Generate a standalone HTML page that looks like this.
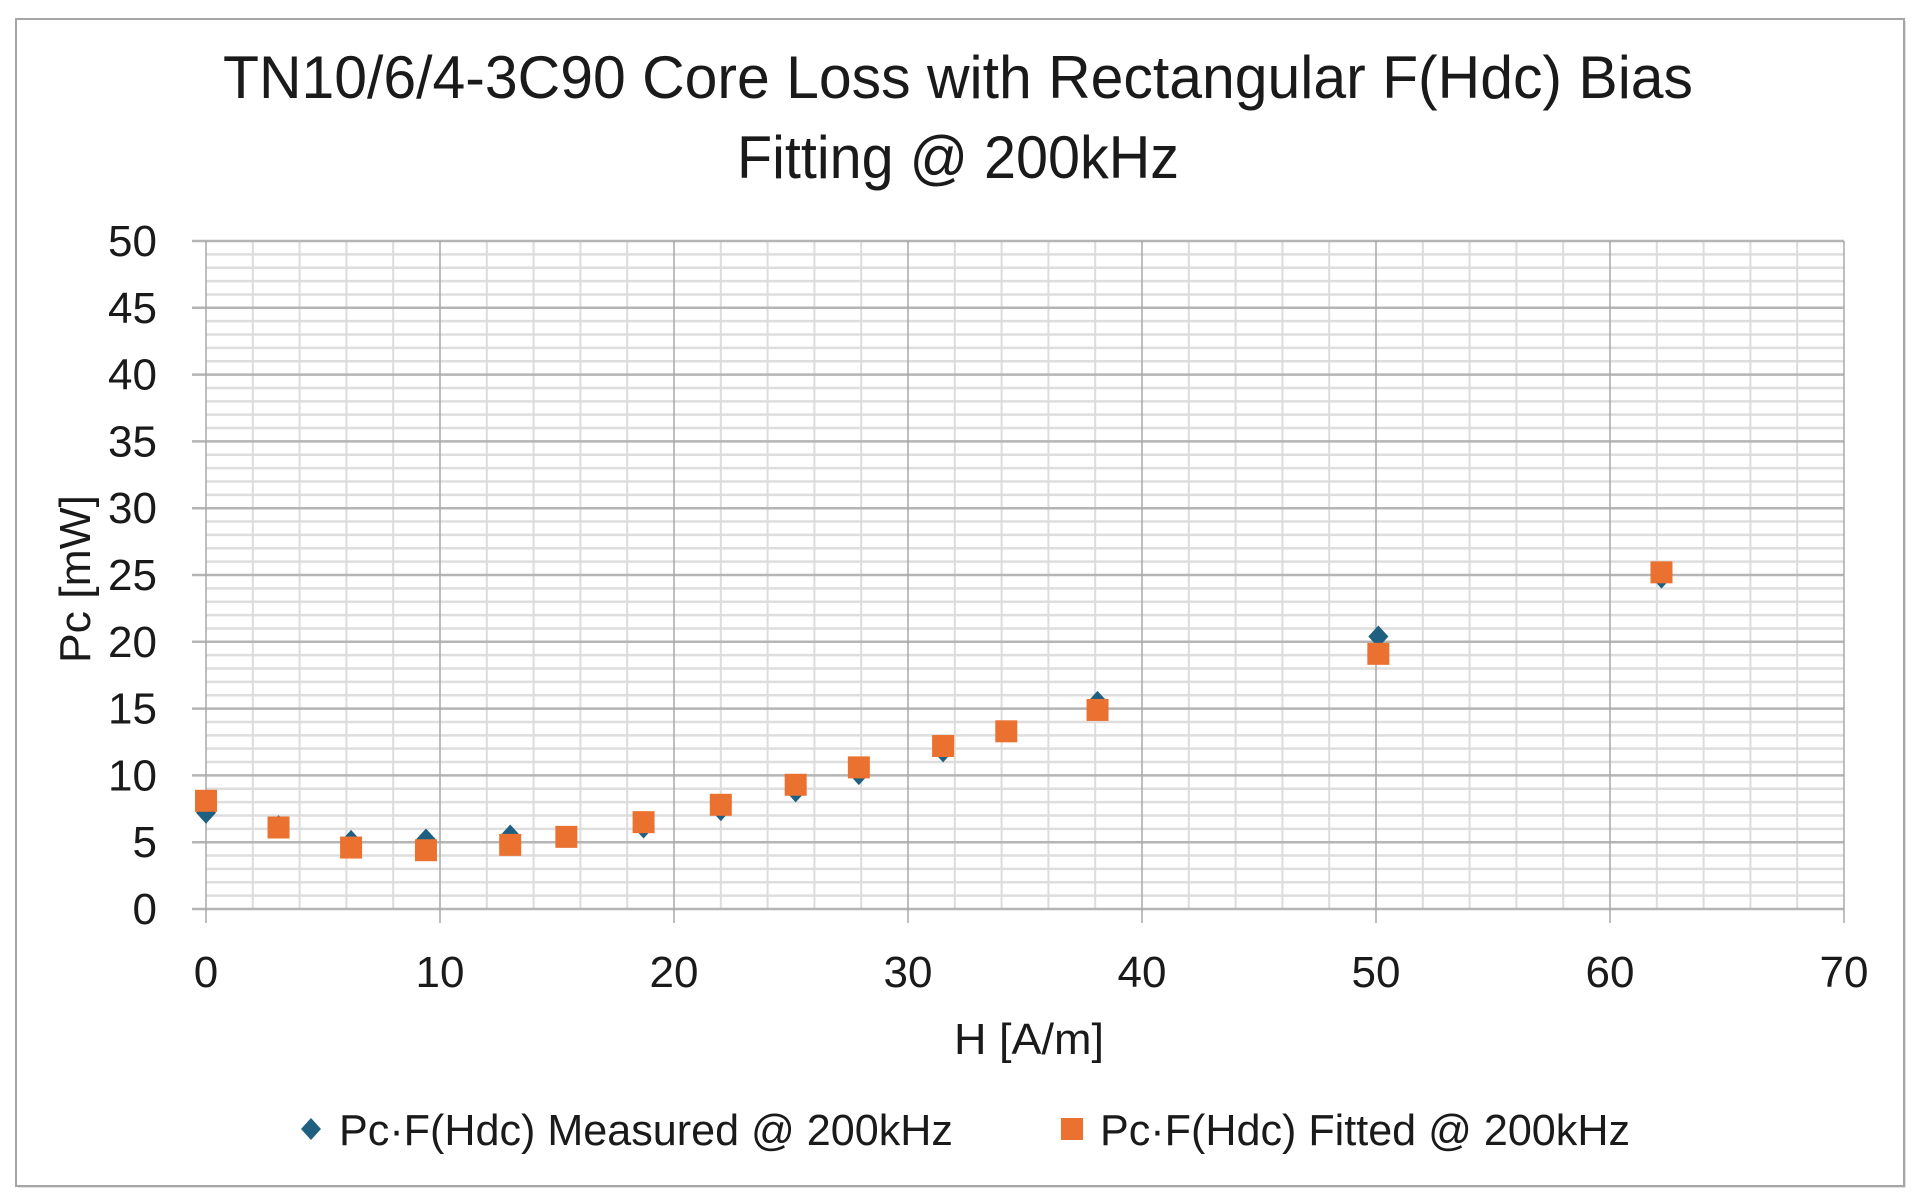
<!DOCTYPE html>
<html><head><meta charset="utf-8"><style>
html,body{margin:0;padding:0;background:#fff;}
svg{display:block;font-family:"Liberation Sans",sans-serif;}
</style></head><body>
<svg id="chart" width="1915" height="1203" viewBox="0 0 1915 1203">
<rect x="18" y="21" width="1888" height="1167" fill="#e0e0e0"/>
<rect x="16" y="19" width="1888" height="1167" fill="#fff" stroke="#a6a6a6" stroke-width="2"/>
<text x="958" y="98" font-size="60" fill="#1a1a1a" text-anchor="middle" textLength="1470" lengthAdjust="spacingAndGlyphs">TN10/6/4-3C90 Core Loss with Rectangular F(Hdc) Bias</text>
<text x="958" y="178" font-size="60" fill="#1a1a1a" text-anchor="middle" textLength="442" lengthAdjust="spacingAndGlyphs">Fitting @ 200kHz</text>
<g id="grid"></g>
<g id="axes"></g>
<g id="marks"></g>
<text x="1029" y="1054" font-size="44" fill="#1a1a1a" text-anchor="middle" textLength="150" lengthAdjust="spacingAndGlyphs">H [A/m]</text>
<text transform="translate(90,579) rotate(-90)" font-size="44" fill="#1a1a1a" text-anchor="middle" textLength="168" lengthAdjust="spacingAndGlyphs">Pc [mW]</text>
<g>
<g>
<path d="M311,1118 L321,1129 L311,1140 L301,1129 Z" fill="#1f5f80"/>
<text x="339" y="1145" font-size="44" fill="#1a1a1a" textLength="614" lengthAdjust="spacingAndGlyphs">Pc·F(Hdc) Measured @ 200kHz</text>
</g>
<g>
<rect x="1061" y="1118" width="22" height="22" fill="#ea7130"/>
<text x="1100" y="1145" font-size="44" fill="#1a1a1a" textLength="530" lengthAdjust="spacingAndGlyphs">Pc·F(Hdc) Fitted @ 200kHz</text>
</g>
</g>
</svg>
<script>
const hValues = [0, 3.1, 6.2, 9.4, 13, 15.4, 18.7, 22, 25.2, 27.9, 31.5, 34.2, 38.1, 50.1, 62.2];
const measured = [7.2, 6.2, 5.1, 5.2, 5.5, 5.4, 6.1, 7.4, 8.8, 10.1, 11.8, 13.3, 15.5, 20.4, 24.8];
const fitted = [8.1, 6.1, 4.6, 4.4, 4.8, 5.4, 6.5, 7.8, 9.3, 10.6, 12.2, 13.3, 14.9, 19.1, 25.2];
const xTicks = [0, 10, 20, 30, 40, 50, 60, 70];
const yTicks = [0, 5, 10, 15, 20, 25, 30, 35, 40, 45, 50];

const NS = 'http://www.w3.org/2000/svg';
const X0 = 206, X1 = 1844, Y0 = 909, Y1 = 241;
const xs = v => X0 + (v - 0) / 70 * (X1 - X0);
const ys = v => Y0 - (v - 0) / 50 * (Y0 - Y1);
function mk(tag, attrs, parent) {
  const e = document.createElementNS(NS, tag);
  for (const k in attrs) e.setAttribute(k, attrs[k]);
  parent.appendChild(e);
  return e;
}
const grid = document.getElementById('grid');
const axes = document.getElementById('axes');
const marks = document.getElementById('marks');

for (let v = 0; v <= 50; v += 1) {
  if (v % 5 === 0) continue;
  const l = mk('line', {x1: X0, x2: X1, y1: ys(v), y2: ys(v), stroke: '#dedede', 'stroke-width': 2.5}, grid);
  
  
}
for (let v = 0; v <= 70; v += 2) {
  if (v % 10 === 0) continue;
  const l = mk('line', {x1: xs(v), x2: xs(v), y1: Y1, y2: Y0, stroke: '#dcdcdc', 'stroke-width': 2}, grid);
  
  
}
yTicks.forEach(v => {
  const l = mk('line', {x1: X0 - 14, x2: X1, y1: ys(v), y2: ys(v), stroke: '#b5b5b5', 'stroke-width': 2.5}, grid);
  
  
  const t = mk('text', {x: 157, y: ys(v) + 15, 'font-size': 44, fill: '#1a1a1a', 'text-anchor': 'end'}, axes);
  t.textContent = v;
  
  
});
xTicks.forEach(v => {
  const l = mk('line', {x1: xs(v), x2: xs(v), y1: Y1, y2: Y0 + 14, stroke: '#a8a8a8', 'stroke-width': 1.5}, grid);
  
  
  const t = mk('text', {x: xs(v), y: 987, 'font-size': 44, fill: '#1a1a1a', 'text-anchor': 'middle'}, axes);
  t.textContent = v;
  
  
});
hValues.forEach((h, i) => {
  const cx = xs(h), cy = ys(measured[i]);
  const d = mk('path', {d: `M${cx},${cy - 11} L${cx + 10},${cy} L${cx},${cy + 11} L${cx - 10},${cy} Z`, fill: '#1f5f80'}, marks);
  
  
});
hValues.forEach((h, i) => {
  const cx = xs(h), cy = ys(fitted[i]);
  const r = mk('rect', {x: cx - 11, y: cy - 11, width: 22, height: 22, fill: '#ea7130'}, marks);
  
  
});
</script>
</body></html>
